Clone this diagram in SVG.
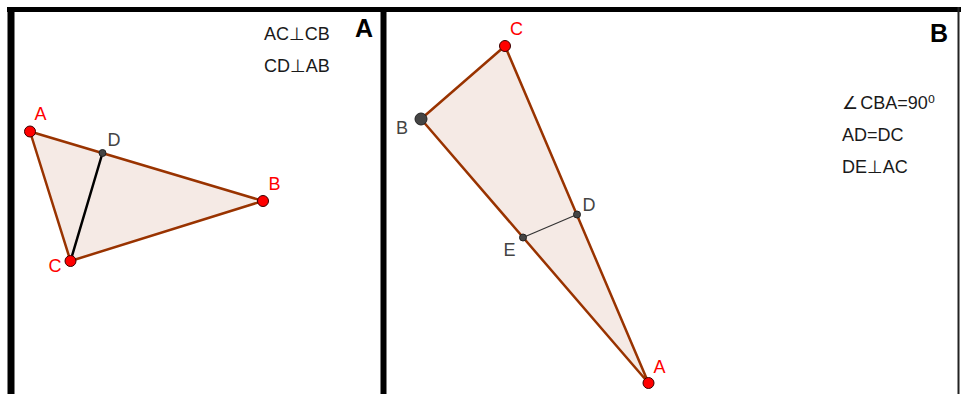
<svg xmlns="http://www.w3.org/2000/svg" width="961" height="394" viewBox="0 0 961 394">
<style>
  .frame { fill: #000; }
  .tri { fill: #993300; fill-opacity: 0.1; stroke: #993300; stroke-width: 2.5; stroke-linejoin: round; }
  .seg { stroke: #000; stroke-width: 2.5; stroke-linecap: round; }
  .thin { stroke: #333; stroke-width: 1.2; }
  .pr { fill: #ff0000; stroke: #3a0000; stroke-width: 1; }
  .pg { fill: #444; stroke: #222; stroke-width: 1; }
  .lr { font-family: "Liberation Sans", Arial, sans-serif; font-size: 18px; fill: #ff0000; }
  .lg { font-family: "Liberation Sans", Arial, sans-serif; font-size: 18px; fill: #444; }
  .txt { font-family: "Liberation Sans", "DejaVu Sans", Arial, sans-serif; font-size: 18px; fill: #1a1a1a; }
  .big { font-family: "Liberation Sans", Arial, sans-serif; font-size: 25px; font-weight: bold; fill: #000; }
</style>
<rect width="961" height="394" fill="#fff"/>
<g id="frame">
  <rect class="frame" x="7" y="7" width="954" height="5"/>
  <rect class="frame" x="7.5" y="7" width="7" height="387"/>
  <rect class="frame" x="380.5" y="7" width="6" height="387"/>
  <rect x="957.5" y="7" width="2" height="387" fill="#222"/>
</g>
<g id="panelA">
  <polygon class="tri" points="30,131.5 263,201 70.5,261"/>
  <g id="connectorsA">
    <line class="seg" x1="70.5" y1="261" x2="102.5" y2="153"/>
  </g>
  <g id="A_A"><circle class="pr" cx="30" cy="131.5" r="5.5"/><text class="lr" x="34.5" y="120">A</text></g>
  <g id="A_B"><circle class="pr" cx="263" cy="201" r="5.5"/><text class="lr" x="268.5" y="190">B</text></g>
  <g id="A_C"><circle class="pr" cx="70.5" cy="261" r="5.5"/><text class="lr" x="48.5" y="271.5">C</text></g>
  <g id="A_D"><circle class="pg" cx="102.5" cy="153" r="3.5"/><text class="lg" x="107.5" y="146">D</text></g>
  <text class="txt" x="264" y="39.5">AC⊥CB</text>
  <text class="txt" x="264" y="71.5">CD⊥AB</text>
  <text class="big" x="355" y="37">A</text>
</g>
<g id="panelB">
  <polygon class="tri" points="505,46 421,119 648.5,383"/>
  <g id="connectorsB">
    <line class="thin" x1="523" y1="237.5" x2="577" y2="214.5"/>
  </g>
  <g id="B_C"><circle class="pr" cx="505" cy="46" r="5.5"/><text class="lr" x="510" y="35">C</text></g>
  <g id="B_B"><circle class="pg" cx="421" cy="119" r="6"/><text class="lg" x="396" y="134">B</text></g>
  <g id="B_D"><circle class="pg" cx="577" cy="214.5" r="3.5"/><text class="lg" x="582.5" y="211">D</text></g>
  <g id="B_E"><circle class="pg" cx="523" cy="237.5" r="3.5"/><text class="lg" x="503.5" y="256">E</text></g>
  <g id="B_A"><circle class="pr" cx="648.5" cy="383" r="5.5"/><text class="lr" x="653.5" y="372.5">A</text></g>
  <text class="txt" x="842" y="109">∠<tspan dx="2">CBA=90⁰</tspan></text>
  <text class="txt" x="842" y="141">AD=DC</text>
  <text class="txt" x="842" y="173">DE⊥AC</text>
  <text class="big" x="930" y="41.5">B</text>
</g>
</svg>
